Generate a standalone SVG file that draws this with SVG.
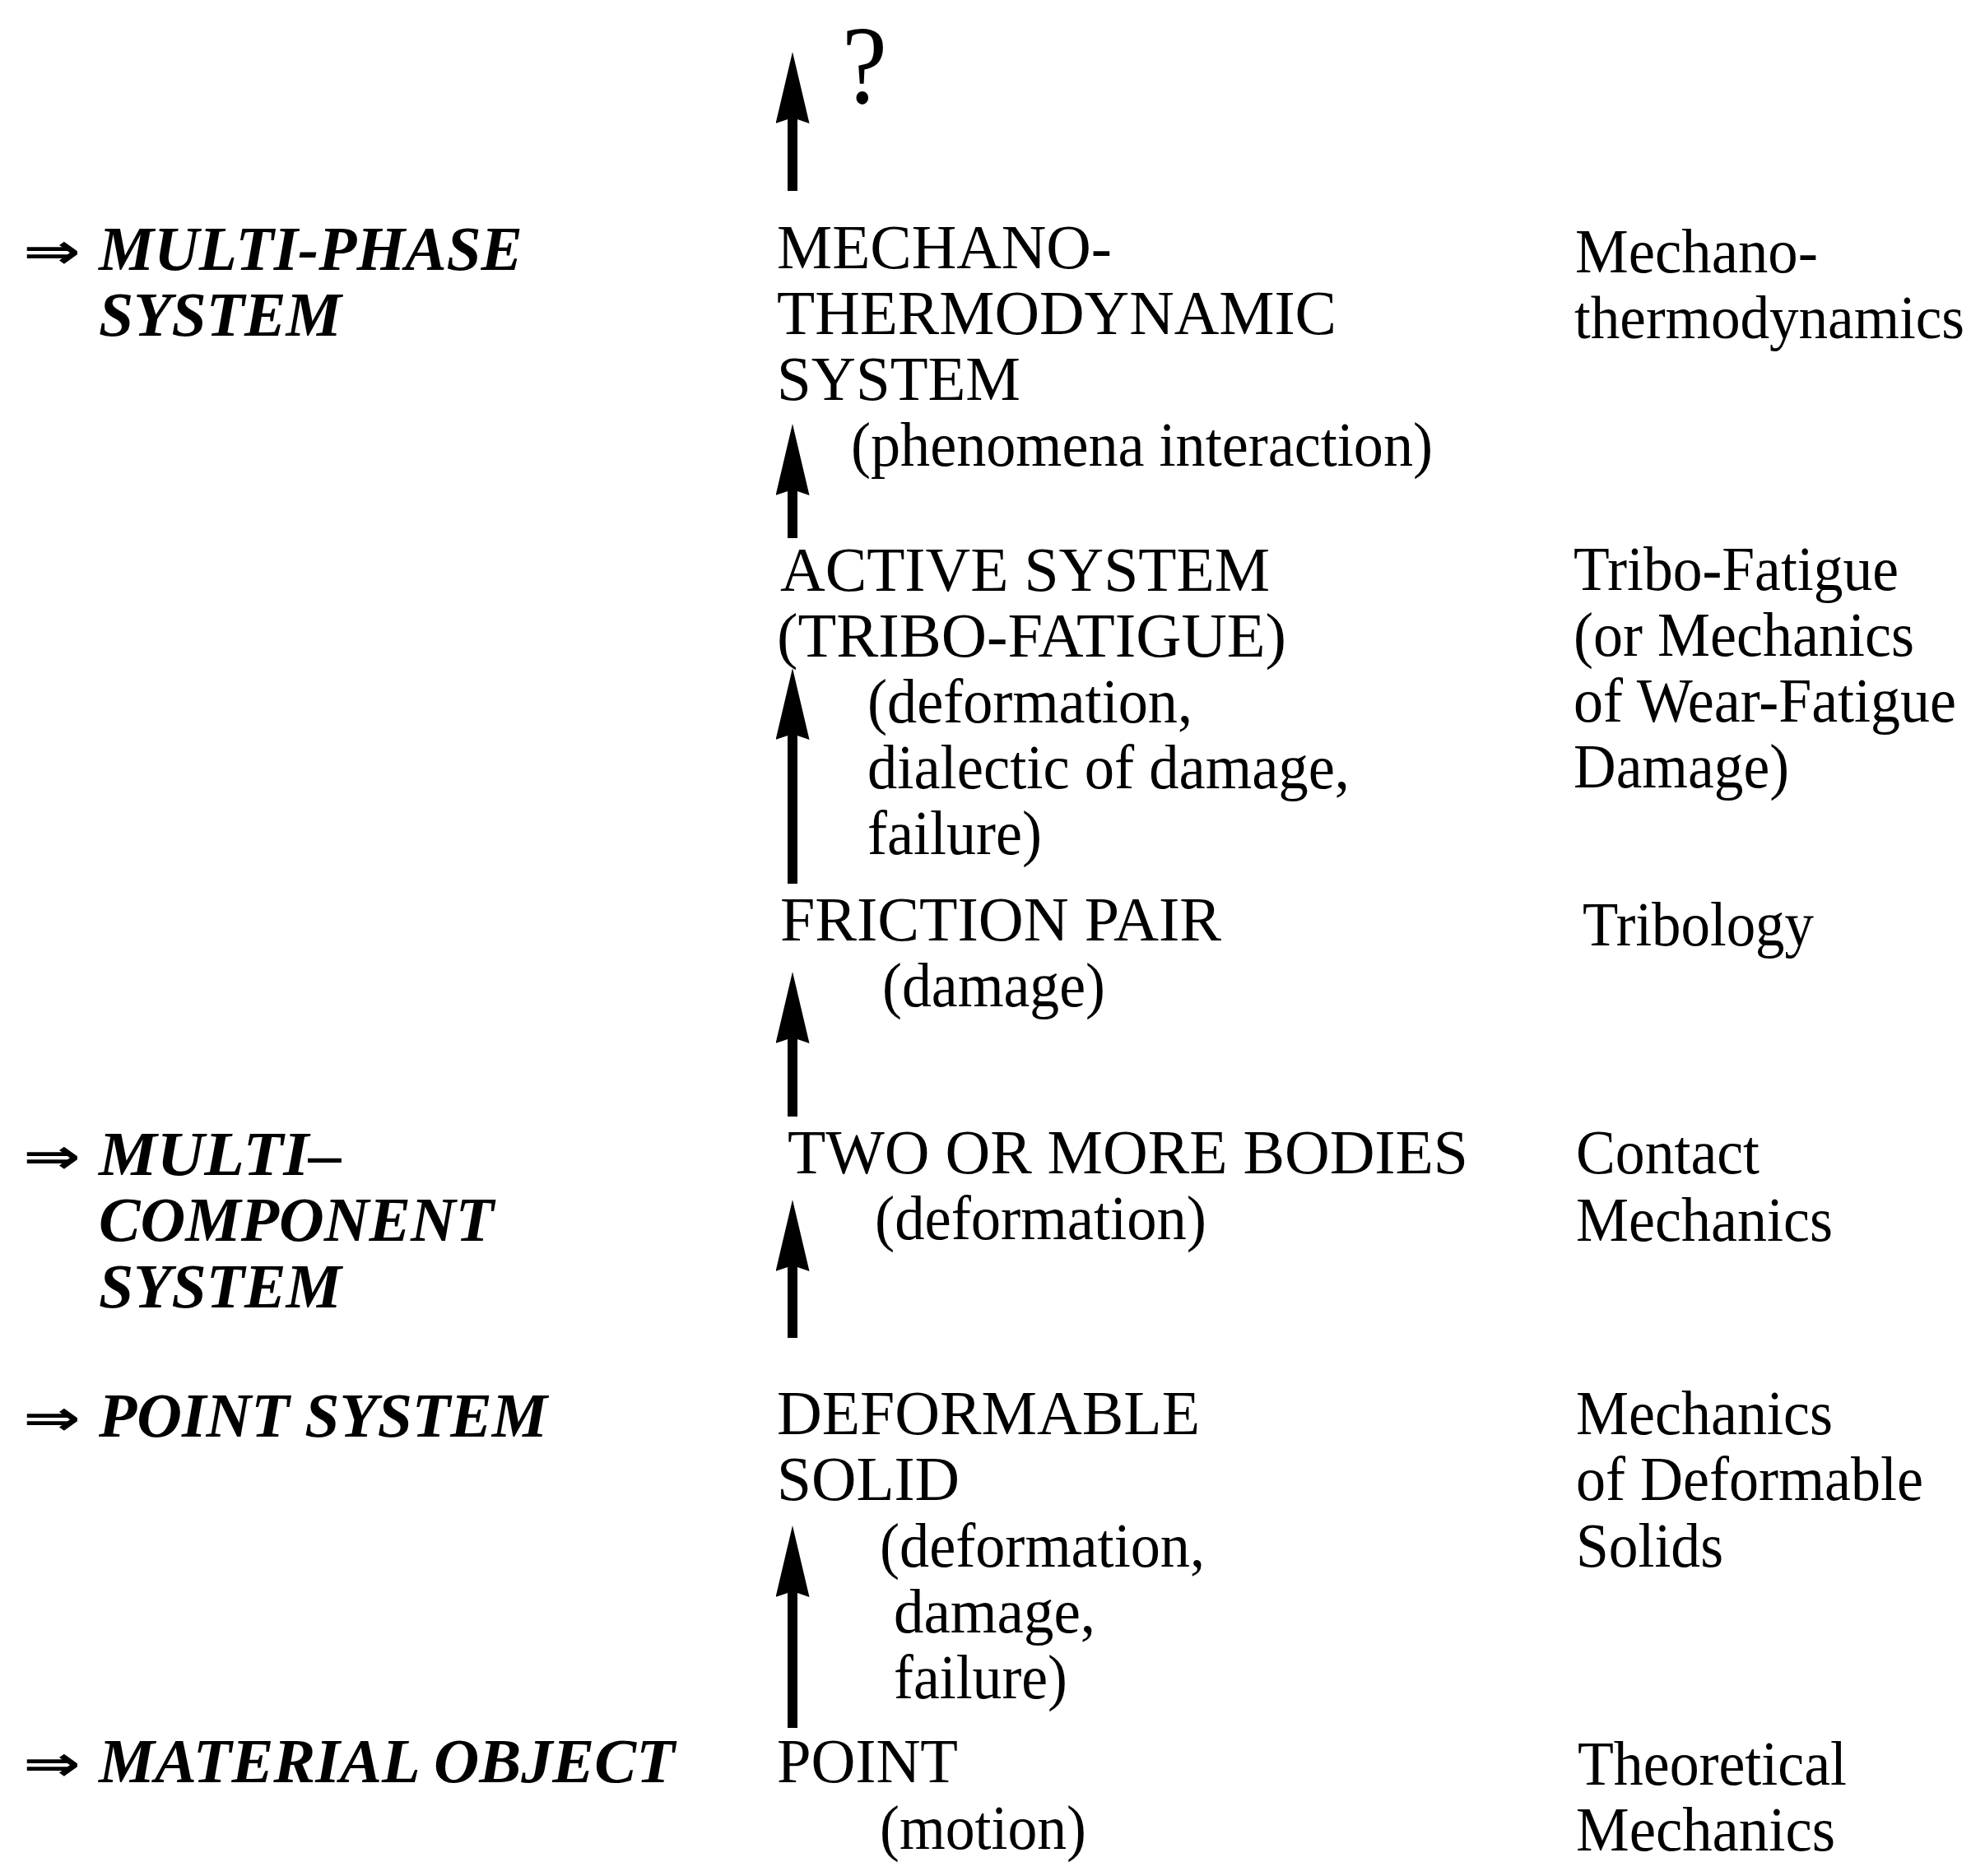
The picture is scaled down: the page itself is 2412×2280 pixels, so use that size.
<svg xmlns="http://www.w3.org/2000/svg" width="2412" height="2280" viewBox="0 0 2412 2280">
<style>
text{font-family:"Liberation Serif","DejaVu Serif",serif;font-size:76px;fill:#000}
.l{font-weight:bold;font-style:italic}
.sym{font-family:"DejaVu Sans","Liberation Serif",sans-serif;font-weight:bold;font-size:60px}
.q{font-size:136px}
.n{font-size:73px}
.c line{stroke:#000;stroke-width:12}
</style>
<defs>
<marker id="ah" viewBox="0 0 87 41" refX="7" refY="20.5" markerWidth="87" markerHeight="41" markerUnits="userSpaceOnUse" orient="auto">
<path d="M0,0 L87,20.5 L0,41 L7,20.5 Z" fill="#000"/>
</marker>
</defs>
<rect width="2412" height="2280" fill="#fff"/>
<g id="connectors" class="c">
<line x1="963" y1="232" x2="963" y2="143" marker-end="url(#ah)"/>
<line x1="963" y1="654" x2="963" y2="595" marker-end="url(#ah)"/>
<line x1="963" y1="1074" x2="963" y2="892" marker-end="url(#ah)"/>
<line x1="963" y1="1357" x2="963" y2="1261" marker-end="url(#ah)"/>
<line x1="963" y1="1626" x2="963" y2="1538" marker-end="url(#ah)"/>
<line x1="963" y1="2100" x2="963" y2="1934" marker-end="url(#ah)"/>
</g>
<g id="question"><text class="q" x="1023" y="125" textLength="55" lengthAdjust="spacingAndGlyphs">?</text></g>

<g id="level-multiphase">
<text class="sym" x="28" y="326" textLength="70" lengthAdjust="spacingAndGlyphs">⇒</text>
<text class="l" x="120" y="328" textLength="515" lengthAdjust="spacingAndGlyphs">MULTI-PHASE</text>
<text class="l" x="120" y="408" textLength="295" lengthAdjust="spacingAndGlyphs">SYSTEM</text>
</g>
<g id="node-mechano">
<text x="944" y="326" textLength="407" lengthAdjust="spacingAndGlyphs">MECHANO-</text>
<text x="944" y="406" textLength="680" lengthAdjust="spacingAndGlyphs">THERMODYNAMIC</text>
<text x="944" y="486" textLength="296" lengthAdjust="spacingAndGlyphs">SYSTEM</text>
<text x="1034" y="566" textLength="707" lengthAdjust="spacingAndGlyphs">(phenomena interaction)</text>
</g>
<g id="field-mechano">
<text x="1914" y="331" textLength="295" lengthAdjust="spacingAndGlyphs">Mechano-</text>
<text class="n" x="1913" y="411" textLength="474" lengthAdjust="spacingAndGlyphs">thermodynamics</text>
</g>

<g id="node-active">
<text x="948" y="718" textLength="595" lengthAdjust="spacingAndGlyphs">ACTIVE SYSTEM</text>
<text x="944" y="798" textLength="619" lengthAdjust="spacingAndGlyphs">(TRIBO-FATIGUE)</text>
<text x="1054" y="878" textLength="395" lengthAdjust="spacingAndGlyphs">(deformation,</text>
<text x="1054" y="958" textLength="586" lengthAdjust="spacingAndGlyphs">dialectic of damage,</text>
<text x="1054" y="1038" textLength="212" lengthAdjust="spacingAndGlyphs">failure)</text>
</g>
<g id="field-tribofatigue">
<text x="1912" y="717" textLength="395" lengthAdjust="spacingAndGlyphs">Tribo-Fatigue</text>
<text x="1912" y="797" textLength="414" lengthAdjust="spacingAndGlyphs">(or Mechanics</text>
<text x="1912" y="877" textLength="465" lengthAdjust="spacingAndGlyphs">of Wear-Fatigue</text>
<text x="1912" y="957" textLength="262" lengthAdjust="spacingAndGlyphs">Damage)</text>
</g>

<g id="node-friction">
<text x="948" y="1143" textLength="536" lengthAdjust="spacingAndGlyphs">FRICTION PAIR</text>
<text x="1072" y="1223" textLength="271" lengthAdjust="spacingAndGlyphs">(damage)</text>
</g>
<g id="field-tribology">
<text x="1923" y="1149" textLength="281" lengthAdjust="spacingAndGlyphs">Tribology</text>
</g>

<g id="level-multicomponent">
<text class="sym" x="28" y="1426" textLength="70" lengthAdjust="spacingAndGlyphs">⇒</text>
<text class="l" x="120" y="1428" textLength="295" lengthAdjust="spacingAndGlyphs">MULTI–</text>
<text class="l" x="120" y="1508" textLength="480" lengthAdjust="spacingAndGlyphs">COMPONENT</text>
<text class="l" x="120" y="1589" textLength="295" lengthAdjust="spacingAndGlyphs">SYSTEM</text>
</g>
<g id="node-twobodies">
<text x="957" y="1426" textLength="827" lengthAdjust="spacingAndGlyphs">TWO OR MORE BODIES</text>
<text x="1063" y="1506" textLength="403" lengthAdjust="spacingAndGlyphs">(deformation)</text>
</g>
<g id="field-contact">
<text x="1915" y="1426" textLength="223" lengthAdjust="spacingAndGlyphs">Contact</text>
<text x="1915" y="1508" textLength="312" lengthAdjust="spacingAndGlyphs">Mechanics</text>
</g>

<g id="level-pointsystem">
<text class="sym" x="28" y="1744" textLength="70" lengthAdjust="spacingAndGlyphs">⇒</text>
<text class="l" x="120" y="1746" textLength="545" lengthAdjust="spacingAndGlyphs">POINT SYSTEM</text>
</g>
<g id="node-deformable">
<text x="944" y="1743" textLength="514" lengthAdjust="spacingAndGlyphs">DEFORMABLE</text>
<text x="944" y="1823" textLength="222" lengthAdjust="spacingAndGlyphs">SOLID</text>
<text x="1069" y="1904" textLength="395" lengthAdjust="spacingAndGlyphs">(deformation,</text>
<text x="1086" y="1984" textLength="245" lengthAdjust="spacingAndGlyphs">damage,</text>
<text x="1086" y="2064" textLength="211" lengthAdjust="spacingAndGlyphs">failure)</text>
</g>
<g id="field-deformable">
<text x="1915" y="1743" textLength="312" lengthAdjust="spacingAndGlyphs">Mechanics</text>
<text x="1915" y="1823" textLength="422" lengthAdjust="spacingAndGlyphs">of Deformable</text>
<text x="1915" y="1904" textLength="179" lengthAdjust="spacingAndGlyphs">Solids</text>
</g>

<g id="level-material">
<text class="sym" x="28" y="2164" textLength="70" lengthAdjust="spacingAndGlyphs">⇒</text>
<text class="l" x="120" y="2166" textLength="700" lengthAdjust="spacingAndGlyphs">MATERIAL OBJECT</text>
</g>
<g id="node-point">
<text x="944" y="2166" textLength="220" lengthAdjust="spacingAndGlyphs">POINT</text>
<text x="1069" y="2247" textLength="251" lengthAdjust="spacingAndGlyphs">(motion)</text>
</g>
<g id="field-theoretical">
<text x="1917" y="2169" textLength="327" lengthAdjust="spacingAndGlyphs">Theoretical</text>
<text x="1915" y="2249" textLength="315" lengthAdjust="spacingAndGlyphs">Mechanics</text>
</g>
</svg>
